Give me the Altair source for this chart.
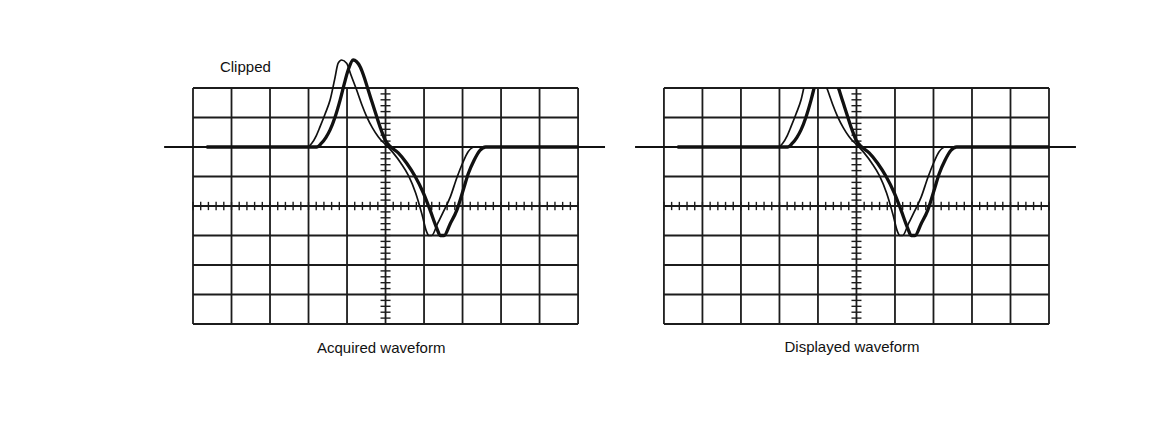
import altair as alt
import pandas as pd
import numpy as np

# ---- data ----
cols = list(range(0, 11))          # vertical graticule lines (divisions)
rows = list(range(-4, 5))          # horizontal graticule lines (divisions)

thin_x = [0.35, 2.95, 3.08, 3.20, 3.30, 3.43, 3.56, 3.68, 3.77, 3.86,
          3.99, 4.10, 4.25, 4.38, 4.51, 4.66, 4.81, 4.93, 5.03, 5.20,
          5.40, 5.60, 5.78, 5.95, 6.06, 6.13, 6.20, 6.35, 6.50, 6.68,
          6.85, 7.00, 7.15, 7.32, 10.0]
thin_y = [2.0, 2.0, 2.12, 2.38, 2.69, 3.12, 3.59, 4.30, 4.84, 4.95,
          4.84, 4.45, 3.93, 3.45, 3.03, 2.65, 2.35, 2.17, 2.05, 1.80,
          1.45, 1.02, 0.45, -0.30, -0.85, -1.0, -1.0, -0.60, -0.20, 0.30,
          0.95, 1.45, 1.85, 2.0, 2.0]

thick_x = [0.35, 3.21, 3.33, 3.45, 3.56, 3.69, 3.82, 3.93, 4.03, 4.16,
           4.34, 4.45, 4.55, 4.66, 4.77, 4.88, 4.99, 5.12, 5.33, 5.55,
           5.77, 5.98, 6.16, 6.33, 6.42, 6.52, 6.68, 6.85, 7.02, 7.15,
           7.30, 7.45, 7.60, 10.0]
thick_y = [2.0, 2.0, 2.12, 2.32, 2.58, 3.02, 3.59, 4.15, 4.61, 4.95,
           4.72, 4.35, 3.93, 3.48, 3.03, 2.60, 2.24, 2.02, 1.80, 1.45,
           1.00, 0.45, -0.15, -0.75, -1.0, -1.0, -0.60, -0.15, 0.55, 1.10,
           1.55, 1.88, 2.0, 2.0]

baseline_level = 2.0
baseline_span = [-0.75, 10.7]
panel_titles = ["Acquired waveform", "Displayed waveform"]
clip_text = "Clipped"

# ---- layout parameters ----
OFFSET = 12.23          # horizontal offset of the second panel (divisions)
XMAX = 22.23
FONT = "Liberation Sans"
INK = "#111111"

# graticule
grid_recs = []
for p in range(2):
    off = p * OFFSET
    for c in cols:
        grid_recs.append(dict(x=c + off, x2=c + off, y=-4, y2=4))
    for r in rows:
        grid_recs.append(dict(x=off, x2=off + 10, y=r, y2=r))
grid_df = pd.DataFrame(grid_recs)

# minor ticks on the centre cross
tick_recs = []
for p in range(2):
    off = p * OFFSET
    for t in np.round(np.arange(0, 10.001, 0.2), 2):
        tick_recs.append(dict(x=t + off, x2=t + off, y=-0.14, y2=0.14))
    for t in np.round(np.arange(-4, 4.001, 0.2), 2):
        tick_recs.append(dict(x=5 + off - 0.13, x2=5 + off + 0.13, y=t, y2=t))
tick_df = pd.DataFrame(tick_recs)

base_df = pd.DataFrame([dict(x=baseline_span[0] + p * OFFSET, x2=baseline_span[1] + p * OFFSET,
                             y=baseline_level, y2=baseline_level) for p in range(2)])

wave_recs = []
for p in range(2):
    for name, xs_, ys_ in (("thin", thin_x, thin_y), ("thick", thick_x, thick_y)):
        for a, b in zip(xs_, ys_):
            wave_recs.append(dict(panel=p, trace=name, x=a + p * OFFSET, y=b))
wave_df = pd.DataFrame(wave_recs)

text_df = pd.DataFrame([
    dict(x=0.70, y=4.70, label=clip_text),
    dict(x=3.22, y=-4.80, label=panel_titles[0]),
    dict(x=3.13 + OFFSET, y=-4.78, label=panel_titles[1]),
])

xscale = alt.Scale(domain=[0, XMAX], nice=False, zero=False)
yscale = alt.Scale(domain=[-4, 4], nice=False, zero=False)
X = alt.X("x:Q", scale=xscale, axis=None)
Y = alt.Y("y:Q", scale=yscale, axis=None)

grid = alt.Chart(grid_df).mark_rule(color="#1c1c1c", strokeWidth=1.8).encode(
    x=X, x2="x2:Q", y=Y, y2="y2:Q")
ticks = alt.Chart(tick_df).mark_rule(color="#1c1c1c", strokeWidth=1.4).encode(
    x=X, x2="x2:Q", y=Y, y2="y2:Q")
baseline = alt.Chart(base_df).mark_rule(color=INK, strokeWidth=1.8).encode(
    x=X, x2="x2:Q", y=Y, y2="y2:Q")

sw = alt.StrokeWidth("trace:N", scale=alt.Scale(domain=["thin", "thick"], range=[1.7, 3.3]), legend=None)

wave_left = alt.Chart(wave_df).transform_filter("datum.panel == 0").mark_line(
    color=INK, interpolate="monotone").encode(x=X, y=Y, strokeWidth=sw, detail="trace:N")
wave_right = alt.Chart(wave_df).transform_filter("datum.panel == 1").mark_line(
    color=INK, interpolate="monotone", clip=True).encode(x=X, y=Y, strokeWidth=sw, detail="trace:N")

texts = alt.Chart(text_df).mark_text(
    font=FONT, fontSize=15, color=INK, align="left", baseline="middle").encode(
    x=X, y=Y, text="label:N")

chart = alt.layer(grid, ticks, baseline, wave_left, wave_right, texts).properties(
    width=856, height=236,
    padding={"left": 185, "top": 80, "right": 100, "bottom": 60},
    autosize=alt.AutoSizeParams(type="none"),
    background="white",
).configure_view(stroke=None)

chart.save("out.html", embed_options={"renderer": "svg", "actions": False})
